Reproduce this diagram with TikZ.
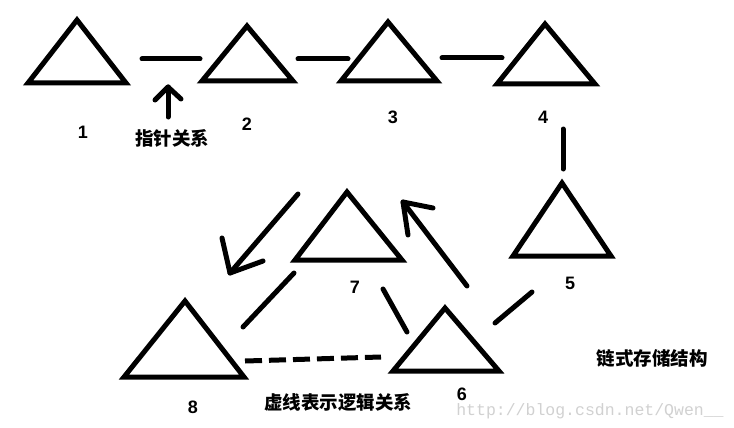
\documentclass[tikz,border=0pt]{standalone}
\usepackage{fontspec}
\setmainfont{Liberation Sans}
\newfontfamily\cjk{Noto Sans CJK SC}
\newfontfamily\wmfont{Liberation Mono}
\begin{document}
\begin{tikzpicture}[x=1pt,y=-1pt,
  stroke/.style={line width=5pt,line cap=round,line join=miter},
  tri/.style={stroke},
  num/.style={font=\fontsize{18}{18}\selectfont\bfseries,inner sep=0},
  lbl/.style={font=\cjk\bfseries\fontsize{18.5}{19}\selectfont,inner sep=0},
  dashline/.style={line width=5pt,dash pattern=on 17pt off 7pt}]
\useasboundingbox (0,0) rectangle (734,428);
\fill[white] (0,0) rectangle (734,428);
% triangles
\draw[tri] (77,20) -- (126,83) -- (28,83) -- cycle;
\draw[tri] (247,26) -- (293,81) -- (202,81) -- cycle;
\draw[tri] (388,22) -- (437,81) -- (341,81) -- cycle;
\draw[tri] (545,24) -- (595,84) -- (497,84) -- cycle;
\draw[tri] (562,183) -- (611,256) -- (513,256) -- cycle;
\draw[tri] (445,308) -- (499,371) -- (393,371) -- cycle;
\draw[tri] (347,192) -- (402,260) -- (295,260) -- cycle;
\draw[tri] (185,301) -- (244,377) -- (124,377) -- cycle;
% coordinates
\coordinate (a1) at (142,59); \coordinate (a2) at (200,59);
\coordinate (b1) at (298,59); \coordinate (b2) at (348,59);
\coordinate (c1) at (442,58); \coordinate (c2) at (502,58);
\coordinate (d1) at (563,129); \coordinate (d2) at (563,169);
\coordinate (e1) at (532,292); \coordinate (e2) at (495,323);
\coordinate (f1) at (383,289); \coordinate (f2) at (407,332);
\coordinate (g1) at (294,273); \coordinate (g2) at (243,327);
\coordinate (h1) at (245,361); \coordinate (h2) at (381,357);
\coordinate (p0) at (168,117); \coordinate (p1) at (168,87);
\coordinate (p2) at (155,100); \coordinate (p3) at (181,99);
\coordinate (q0) at (467,286); \coordinate (q1) at (403,202);
\coordinate (q2) at (433,208); \coordinate (q3) at (408,235);
\coordinate (r0) at (298,194); \coordinate (r1) at (230,273);
\coordinate (r2) at (222,238); \coordinate (r3) at (263,261);
% links
\draw[stroke] (a1) -- (a2);
\draw[stroke] (b1) -- (b2);
\draw[stroke] (c1) -- (c2);
\draw[stroke] (d1) -- (d2);
\draw[stroke] (e1) -- (e2);
\draw[stroke] (f1) -- (f2);
\draw[stroke] (g1) -- (g2);
\draw[dashline] (h1) -- (h2);
% arrows
\draw[stroke] (p0) -- (p1); \draw[stroke,line join=round] (p2) -- (p1) -- (p3);
\draw[stroke] (q0) -- (q1); \draw[stroke,line join=round] (q2) -- (q1) -- (q3);
\draw[stroke] (r0) -- (r1); \draw[stroke,line join=round] (r2) -- (r1) -- (r3);
% labels
\node[num] (n1) at (83,132) {1};
\node[num] (n2) at (247,124) {2};
\node[num] (n3) at (393,117) {3};
\node[num] (n4) at (543,117) {4};
\node[num] (n5) at (570,283) {5};
\node[num] (n6) at (462,394) {6};
\node[num] (n7) at (355,287) {7};
\node[num] (n8) at (193,407) {8};
\node[lbl] (t1) at (172,138) {指针关系};
\node[lbl] (t2) at (338,402) {虚线表示逻辑关系};
\node[lbl] (t3) at (652,358) {链式存储结构};
\node[inner sep=0,text=black!18,font=\wmfont\fontsize{16.5}{17}\selectfont] (wm) at (590,411) {http://blog.csdn.net/Qwen\_\_};
\end{tikzpicture}
\end{document}
